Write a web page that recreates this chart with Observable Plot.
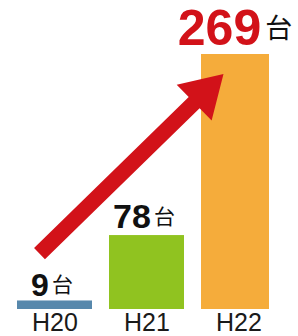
<!DOCTYPE html>
<html>
<head>
<meta charset="utf-8">
<script src="https://cdn.jsdelivr.net/npm/d3@7"></script>
<script src="https://cdn.jsdelivr.net/npm/@observablehq/plot@0.6"></script>
<style>
  html, body { margin: 0; padding: 0; background: #fff; }
  svg { display: block; }
</style>
</head>
<body>
<div id="chart"></div>
<script>
// ---- data ----
const years = ["H20", "H21", "H22"];
const counts = [9, 78, 269];
const unit = "台";
const barColors = ["#5788ac", "#90c320", "#f5ac3b"];
// arrow annotation (data units): from near H20 to near H22
const arrowFrom = { year: "H20", value: 58.5 };
const arrowTo = { year: "H22", value: 248 };

const data = years.map((year, i) => ({ year, value: counts[i] }));

const RED = "#d21219";
const FONT = "'Liberation Sans', Arial, Helvetica, sans-serif";
const CJK = "'Noto Sans CJK JP', 'Noto Sans CJK SC', sans-serif";

function arrowMark(index, scales) {
  const x = scales.x, y = scales.y;
  const bw = x.bandwidth ? x.bandwidth() : 0;
  const tx = x(arrowFrom.year) + bw * 0.3, ty = y(arrowFrom.value);
  const px = x(arrowTo.year) + bw * 0.3, py = y(arrowTo.value);
  const dx = px - tx, dy = py - ty, len = Math.hypot(dx, dy);
  const ux = dx / len, uy = dy / len, nx = -uy, ny = ux;
  const headLen = 41, headHalf = 25, shaftHalf = 7.8;
  const bx = px - ux * headLen, by = py - uy * headLen;
  const pts = [
    [tx + nx * shaftHalf, ty + ny * shaftHalf],
    [bx + nx * shaftHalf, by + ny * shaftHalf],
    [bx + nx * headHalf, by + ny * headHalf],
    [px, py],
    [bx - nx * headHalf, by - ny * headHalf],
    [bx - nx * shaftHalf, by - ny * shaftHalf],
    [tx - nx * shaftHalf, ty - ny * shaftHalf]
  ];
  const g = document.createElementNS("http://www.w3.org/2000/svg", "g");
  g.setAttribute("aria-label", "arrow");
  const poly = document.createElementNS("http://www.w3.org/2000/svg", "polygon");
  poly.setAttribute("points", pts.map(p => p.join(",")).join(" "));
  poly.setAttribute("fill", RED);
  g.appendChild(poly);
  return g;
}

function label(year, opts) {
  return Plot.text(data.filter(d => d.year === year), {
    x: "year", y: "value",
    text: d => String(d.value),
    lineAnchor: "bottom",
    fontWeight: "bold",
    fontFamily: FONT,
    ...opts
  });
}

const chart = Plot.plot({
  width: 298,
  height: 336,
  marginTop: 54,
  marginBottom: 27,
  marginLeft: 17,
  marginRight: 22,
  style: { fontFamily: FONT, fontSize: "25px", color: "#1a1a1a", background: "#fff", overflow: "visible" },
  x: { type: "band", domain: years, paddingInner: 0.185, paddingOuter: 0, tickSize: 0, tickPadding: 4, label: null },
  y: { domain: [0, 269], axis: null },
  color: { domain: years, range: barColors },
  marks: [
    Plot.barY(data.filter(d => d.year !== "H22"), { x: "year", y: "value", fill: "year" }),
    Plot.barY(data.filter(d => d.year === "H22"), { x: "year", y: "value", fill: "year", insetRight: 7 }),
    arrowMark,
    label("H20", { fontSize: 32, dy: -5, fill: "#111", dx: -3 }),
    label("H21", { fontSize: 34, dy: -8, fill: "#111", dx: -3 }),
    label("H22", { fontSize: 50, dy: -10, fill: RED, dx: -4 })
  ]
});

document.getElementById("chart").appendChild(chart);

// add the unit "台" after each value label, in smaller normal-weight type
chart.querySelectorAll('g[aria-label="text"] text').forEach(t => {
  const num = t.textContent;
  const big = num === String(counts[2]);
  const u = document.createElementNS("http://www.w3.org/2000/svg", "tspan");
  u.textContent = unit;
  u.setAttribute("font-size", big ? 27 : 21);
  u.setAttribute("font-weight", "normal");
  u.setAttribute("font-family", CJK);
  u.setAttribute("fill", "#111");
  u.setAttribute("dx", big ? 4 : 3);
  u.setAttribute("dy", big ? -7 : -4);
  t.appendChild(u);
});
</script>
</body>
</html>
